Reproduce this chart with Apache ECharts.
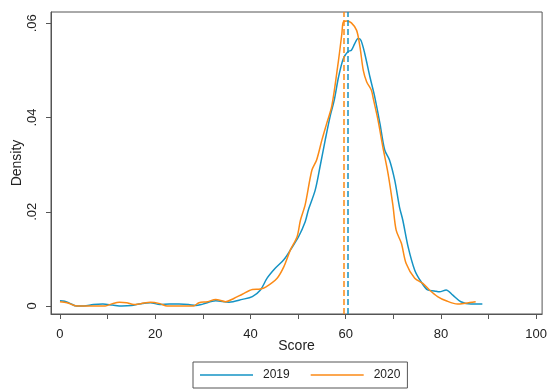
<!DOCTYPE html>
<html>
<head>
<meta charset="utf-8">
<script src="https://cdn.jsdelivr.net/npm/echarts@6/dist/echarts.min.js"></script>
<style>
  html, body { margin: 0; padding: 0; background: #fff; }
  #chart { width: 550px; height: 390px; }
</style>
</head>
<body>
<div id="chart"></div>
<script>
// kernel density: [score, density]
var density2019 = [
    [0, .0011], [1, .0010], [2, .0006], [3.5, 0], [5, 0], [7, .0003], [9, .0004], [11, .0002],
    [13, 0], [15, .0001], [17, .0005], [19, .0007], [21, .0003], [23, .0004], [25, .0004],
    [27, .0003], [28.5, .0001], [30, .0004], [32.7, .0011], [35.5, .0008], [38.3, .0014],
    [40.4, .002], [42.1, .0034], [43.5, .0059], [45.2, .008], [47, .0098], [48.4, .0119],
    [50.1, .0147], [51.5, .0179], [52.2, .0205], [53.6, .0246], [54.6, .0295], [55.7, .0352],
    [56.7, .0401], [57.6, .0437], [58.5, .0486], [59.5, .0525], [60.5, .054], [61.2, .0543],
    [61.9, .0557], [62.6, .0568], [63.2, .0564], [64.0, .0536], [65.1, .0486], [66.1, .0444],
    [67.2, .0387], [68.2, .0331], [69.2, .031], [70.3, .0267], [71.3, .021], [72.0, .0182],
    [73.1, .0126], [74.5, .0076], [75.8, .0052], [77.2, .0034], [78.6, .0032], [79.7, .003],
    [81.1, .0034], [82.5, .0023], [84.2, .0009], [86.3, .0004], [88.7, .0004]
];
var density2020 = [
    [0, .0009], [1.5, .0007], [3.5, 0], [6, 0], [9.5, 0], [11, .0005], [12.5, .0008], [14, .0007],
    [15.5, .0003], [17, .0005], [19, .0008], [21, .0005], [22.5, 0], [25, 0], [28, 0],
    [29.2, .0007], [31, .0009], [32.7, .0014], [34.8, .0009], [36.5, .0016], [38.3, .0025],
    [40.4, .0035], [42.1, .0036], [43.2, .004], [45.6, .0059], [47.0, .0083], [48.4, .0119],
    [49.8, .0147], [50.5, .0182], [51.5, .0215], [52.9, .0288], [53.9, .031], [55.0, .0352],
    [56.0, .0387], [57.1, .0425], [58.5, .0522], [59.2, .0578], [59.5, .0603], [60.2, .0605],
    [61.2, .0601], [62.3, .0585], [63.0, .055], [63.7, .05], [64.4, .0476], [65.4, .0458],
    [65.8, .044], [66.8, .0394], [67.8, .0338], [68.9, .0281], [69.9, .0215], [70.6, .0161],
    [71.7, .0133], [72.7, .009], [74.5, .0059], [76.2, .0048], [77.6, .0034], [79.3, .002],
    [81.1, .0011], [83.5, .0004], [85.2, .0006], [87.3, .0009]
];
var means = [60.35, 59.7]; // 2019, 2020 dashed lines
var years = ['2019', '2020'];
var xTicks = [0, 10, 20, 30, 40, 50, 60, 70, 80, 90, 100];
var xLabels = [0, 20, 40, 60, 80, 100];
var yTicks = [0, .02, .04, .06];

var colors = ['#1593c4', '#fb8a16'];
var axisColor = '#555';
var font = 'Liberation Sans, Arial, sans-serif';

function curve(name, data, mean, color) {
    return {
        name: name,
        type: 'line',
        data: data,
        smooth: 0.3,
        symbol: 'none',
        lineStyle: { color: color, width: 1.5 },
        itemStyle: { color: color },
        markLine: {
            silent: true,
            symbol: 'none',
            label: { show: false },
            lineStyle: { color: color, width: 1.5, type: [6, 3] },
            data: [{ xAxis: mean }]
        }
    };
}

var option = {
    animation: false,
    grid: {
        left: 51, right: 5, top: 12, bottom: 76,
        show: true, borderColor: axisColor, borderWidth: 1
    },
    xAxis: {
        type: 'value',
        min: -1.88, max: 101.25,
        name: 'Score',
        nameLocation: 'middle',
        nameGap: 25,
        nameMoveOverlap: false,
        nameTextStyle: { fontFamily: font, fontSize: 14, color: '#222' },
        axisLine: { show: true, onZero: false, lineStyle: { color: axisColor } },
        axisTick: { show: true, length: 5, customValues: xTicks, lineStyle: { color: axisColor } },
        axisLabel: { customValues: xLabels, margin: 14, fontFamily: font, fontSize: 13, color: '#222' },
        splitLine: { show: false }
    },
    yAxis: {
        type: 'value',
        min: -0.0017, max: 0.0624,
        name: 'Density',
        nameLocation: 'middle',
        nameGap: 27,
        nameMoveOverlap: false,
        nameRotate: 90,
        nameTextStyle: { fontFamily: font, fontSize: 14, color: '#222' },
        axisLine: { show: true, onZero: false, lineStyle: { color: axisColor } },
        axisTick: { show: true, length: 5, customValues: yTicks, lineStyle: { color: axisColor } },
        axisLabel: {
            customValues: yTicks, rotate: 90, margin: 12,
            fontFamily: font, fontSize: 13, color: '#222',
            formatter: function (v) { return v === 0 ? '0' : v.toFixed(2).replace(/^0/, ''); }
        },
        splitLine: { show: false }
    },
    legend: {
        data: years,
        left: 193, top: 362,
        orient: 'horizontal',
        icon: 'rect',
        itemWidth: 53, itemHeight: 1.5, itemGap: 21,
        padding: [7, 7, 7, 7],
        borderColor: axisColor, borderWidth: 1,
        textStyle: { fontFamily: font, fontSize: 12, color: '#222', padding: [0, 0, 0, 5] }
    },
    series: [
        curve(years[0], density2019, means[0], colors[0]),
        curve(years[1], density2020, means[1], colors[1])
    ]
};

var chart = echarts.init(document.getElementById('chart'));
chart.setOption(option);
</script>
</body>
</html>
